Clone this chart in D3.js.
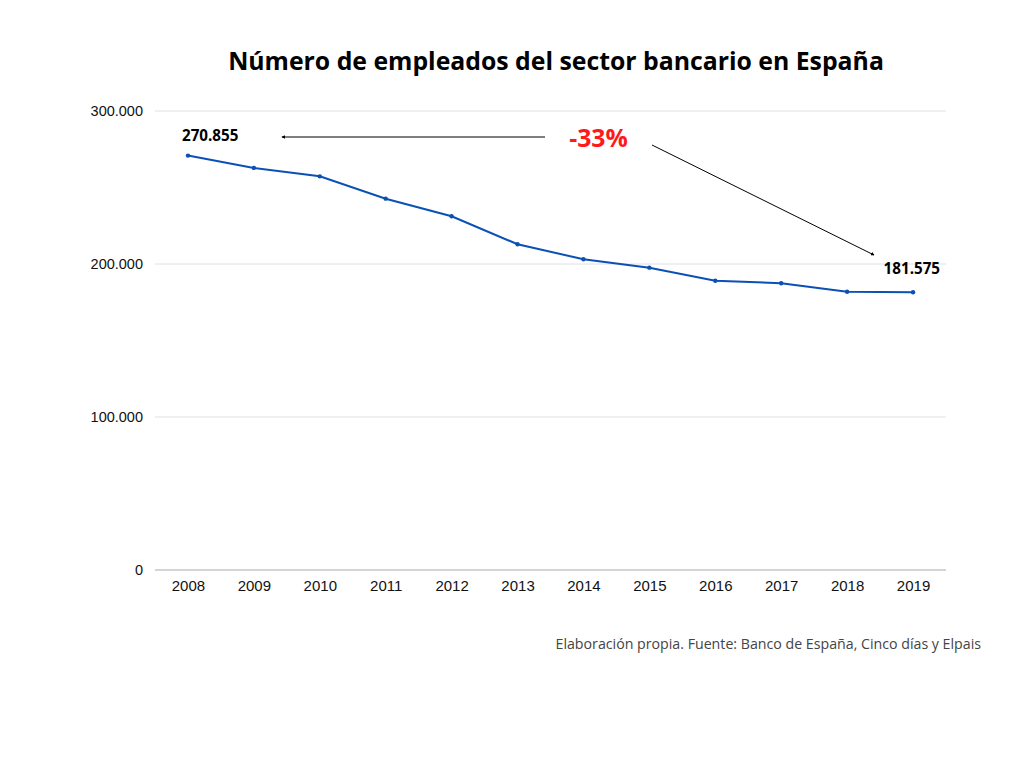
<!DOCTYPE html>
<html><head><meta charset="utf-8">
<script src="https://cdn.jsdelivr.net/npm/d3@7"></script>
<style>body{margin:0;background:#fff}</style>
</head><body>
<svg id="c" width="1024" height="768"></svg>
<script>
const years = ["2008","2009","2010","2011","2012","2013","2014","2015","2016","2017","2018","2019"];
const employees = [270855,262800,257300,242700,231200,212900,203100,197600,189100,187400,181900,181575];
const yTicks = [0,100000,200000,300000];
const title = "Número de empleados del sector bancario en España";
const source = "Elaboración propia. Fuente: Banco de España, Cinco días y Elpais";
const changeLabel = "-33%";

(function(){
const svg = d3.select("#c");
const mL = 155, mR = 946, mT = 111, mB = 570;
const x = d3.scalePoint().domain(years).range([mL, mR]).padding(0.5);
const y = d3.scaleLinear().domain([0, 300000]).range([mB, mT]);
const fmt = v => d3.format(",")(v).replace(/,/g, ".");

svg.append("rect").attr("width",1024).attr("height",768).attr("fill","#fff");

svg.append("text").attr("x",556).attr("y",70).attr("text-anchor","middle")
  .attr("font-family","Open Sans").attr("font-weight","bold").attr("font-size",24.8)
  .attr("fill","#000").text(title);

// grid
svg.append("g").selectAll("line").data(yTicks.filter(d=>d>0)).join("line")
  .attr("x1",mL).attr("x2",mR).attr("y1",d=>y(d)).attr("y2",d=>y(d))
  .attr("stroke","#e0e0e0").attr("stroke-width",1);
svg.append("line").attr("x1",mL).attr("x2",mR).attr("y1",y(0)).attr("y2",y(0))
  .attr("stroke","#aaaaaa").attr("stroke-width",1);

// y axis labels
const ya = svg.append("g").attr("transform",`translate(${mL},0)`)
  .call(d3.axisLeft(y).tickValues(yTicks).tickFormat(fmt).tickSize(0).tickPadding(12));
ya.select(".domain").remove();
ya.selectAll("text").attr("font-family","Liberation Sans, Arial").attr("font-size",14.5).attr("fill","#111");

// x axis labels
const xa = svg.append("g").attr("transform",`translate(0,${mB})`)
  .call(d3.axisBottom(x).tickSize(0).tickPadding(10));
xa.select(".domain").remove();
xa.selectAll("text").attr("font-family","Liberation Sans, Arial").attr("font-size",15).attr("fill","#111");

// line
const data = years.map((yr,i)=>({yr, v: employees[i]}));
svg.append("path").datum(data)
  .attr("d", d3.line().x(d=>x(d.yr)).y(d=>y(d.v)))
  .attr("fill","none").attr("stroke","#0b50b5").attr("stroke-width",2);
svg.append("g").selectAll("circle").data(data).join("circle")
  .attr("cx",d=>x(d.yr)).attr("cy",d=>y(d.v)).attr("r",2.2).attr("fill","#0b50b5");

// annotations
const first = data[0], last = data[data.length-1];
svg.append("text").attr("x",x(first.yr)-6).attr("y",y(first.v)-15)
  .attr("font-family","Open Sans").attr("font-weight","bold").attr("font-size",15.2)
  .attr("fill","#000").text(fmt(first.v));
svg.append("text").attr("x",x(last.yr)+27).attr("y",y(last.v)-18)
  .attr("text-anchor","end")
  .attr("font-family","Open Sans").attr("font-weight","bold").attr("font-size",15.2)
  .attr("fill","#000").text(fmt(last.v));

svg.append("defs").append("marker").attr("id","ah").attr("viewBox","0 0 6 6")
  .attr("refX",5).attr("refY",3).attr("markerWidth",4).attr("markerHeight",4).attr("orient","auto")
  .append("path").attr("d","M0,0L6,3L0,6Z").attr("fill","#000");

svg.append("line").attr("x1",545).attr("y1",137).attr("x2",282).attr("y2",137)
  .attr("stroke","#000").attr("stroke-width",1).attr("marker-end","url(#ah)");
svg.append("line").attr("x1",652).attr("y1",145).attr("x2",874).attr("y2",255)
  .attr("stroke","#000").attr("stroke-width",1).attr("marker-end","url(#ah)");

svg.append("text").attr("x",598.5).attr("y",147).attr("text-anchor","middle")
  .attr("font-family","Open Sans").attr("font-weight","bold").attr("font-size",24.8)
  .attr("fill","#ff1a1a").text(changeLabel);

svg.append("text").attr("x",981).attr("y",649).attr("text-anchor","end")
  .attr("font-family","Open Sans").attr("font-size",14.2).attr("fill","#444").text(source);
})();
</script>
</body></html>
